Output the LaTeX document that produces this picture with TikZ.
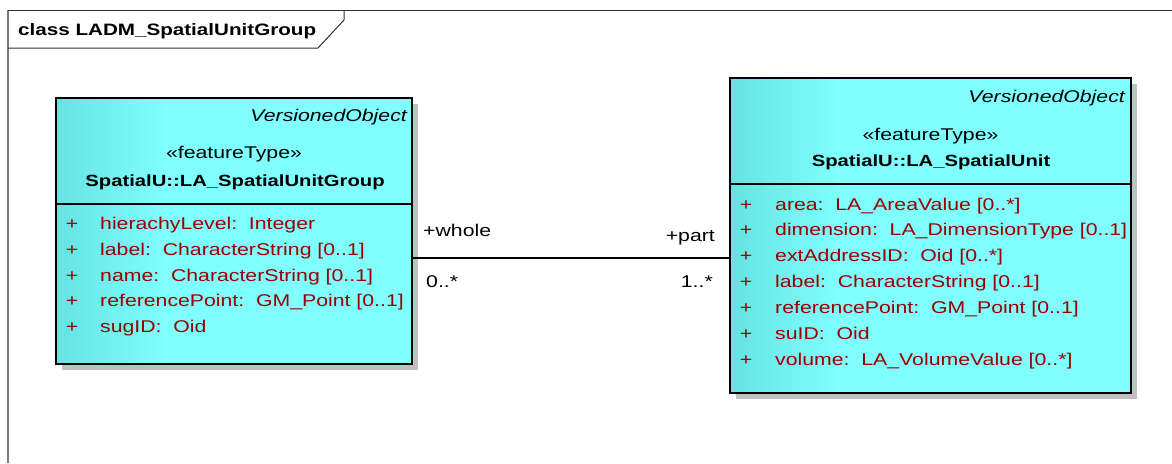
\documentclass[tikz,border=0pt]{standalone}
\usepackage{fontspec}
\setmainfont{Liberation Sans}[FakeStretch=1.25]
\usetikzlibrary{shadows}
\definecolor{clsfill}{HTML}{80FFFF}
\definecolor{clsdark}{HTML}{66E2E2}
\definecolor{attr}{HTML}{990000}
\definecolor{shadowgray}{HTML}{C0C0C0}
\definecolor{framegray}{HTML}{7A7A7A}
\definecolor{framedark}{HTML}{303030}
\begin{document}
\begin{tikzpicture}[x=1pt,y=-1pt,
  classbox/.style={fill=clsfill, inner sep=0pt,
    drop shadow={shadow xshift=6pt, shadow yshift=-6pt, fill=shadowgray, opacity=1}},
  boxborder/.style={draw=black, line width=1.6pt},
  txt/.style={inner sep=0pt, font=\fontsize{17}{20}\selectfont},
  attrtxt/.style={txt, text=attr, anchor=base west},
  plus/.style={txt, text=attr, anchor=base},
  stereo/.style={txt, anchor=base},
  cname/.style={inner sep=0pt, font=\fontsize{16.2}{20}\selectfont\bfseries, anchor=base},
  vobj/.style={inner sep=0pt, font=\fontsize{17}{20}\selectfont\itshape, anchor=base east},
  rolew/.style={txt, anchor=base west},
  rolee/.style={txt, anchor=base east},
  divider/.style={line width=1.6pt, draw=black},
  assoc/.style={line width=1.3pt, draw=black}
]
\useasboundingbox (0,0) rectangle (1172,463);
% frame
\draw[framegray, line width=2pt] (8,463) -- (8,10);
\draw[framedark, line width=1pt] (8,10) -- (1172,10);
\draw[framedark, line width=1pt] (8,48) -- (318,48) -- (344,20) -- (344,10);
\node[anchor=base west, inner sep=0pt, font=\fontsize{16.5}{20}\selectfont\bfseries] (title) at (18,35) {class LADM\_SpatialUnitGroup};

% left class
\node[classbox, minimum width=356pt, minimum height=266pt] (g) at (234,231) {};
\shade[left color=clsdark, right color=clsfill] (g.north west) rectangle ([xshift=110pt]g.south west);
\draw[boxborder] (g.north west) rectangle (g.south east);
\draw[divider] ([yshift=-106pt]g.north west) -- ([yshift=-106pt]g.north east);
\node[vobj] (gv) at (407,121.7) {VersionedObject};
\node[stereo] (gs) at (234,158) {«featureType»};
\node[cname] (gn) at (235,186.7) {SpatialU::LA\_SpatialUnitGroup};
\foreach \y/\t [count=\i] in {229.5/{hierachyLevel:\ \ Integer},
                   255.3/{label:\ \ CharacterString [0..1]},
                   281.1/{name:\ \ CharacterString [0..1]},
                   306.9/{referencePoint:\ \ GM\_Point [0..1]},
                   332.7/{sugID:\ \ Oid}}{
  \node[plus] (gp\i) at (72,\y) {+};
  \node[attrtxt] (ga\i) at (100,\y) {\t};
}

% right class
\node[classbox, minimum width=401pt, minimum height=315pt] (u) at (930.5,235.5) {};
\shade[left color=clsdark, right color=clsfill] (u.north west) rectangle ([xshift=110pt]u.south west);
\draw[boxborder] (u.north west) rectangle (u.south east);
\draw[divider] ([yshift=-106pt]u.north west) -- ([yshift=-106pt]u.north east);
\node[vobj] (uv) at (1125,102.3) {VersionedObject};
\node[stereo] (us) at (930.5,140) {«featureType»};
\node[cname] (un) at (931,166.7) {SpatialU::LA\_SpatialUnit};
\foreach \y/\t [count=\i] in {210/{area:\ \ LA\_AreaValue [0..*]},
                   235.9/{dimension:\ \ LA\_DimensionType [0..1]},
                   261.8/{extAddressID:\ \ Oid [0..*]},
                   287.7/{label:\ \ CharacterString [0..1]},
                   313.6/{referencePoint:\ \ GM\_Point [0..1]},
                   339.5/{suID:\ \ Oid},
                   365.4/{volume:\ \ LA\_VolumeValue [0..*]}}{
  \node[plus] (up\i) at (746,\y) {+};
  \node[attrtxt] (ua\i) at (775,\y) {\t};
}

% association
\draw[assoc] ([yshift=-27pt]g.east) -- ([yshift=-27pt]g.east -| u.west);
\node[rolew] (whole) at (423,236.7) {+whole};
\node[rolee] (part) at (715,241.7) {+part};
\node[rolew] (m1) at (426,287) {0..*};
\node[rolee] (m2) at (713,287) {1..*};
\end{tikzpicture}
\end{document}
